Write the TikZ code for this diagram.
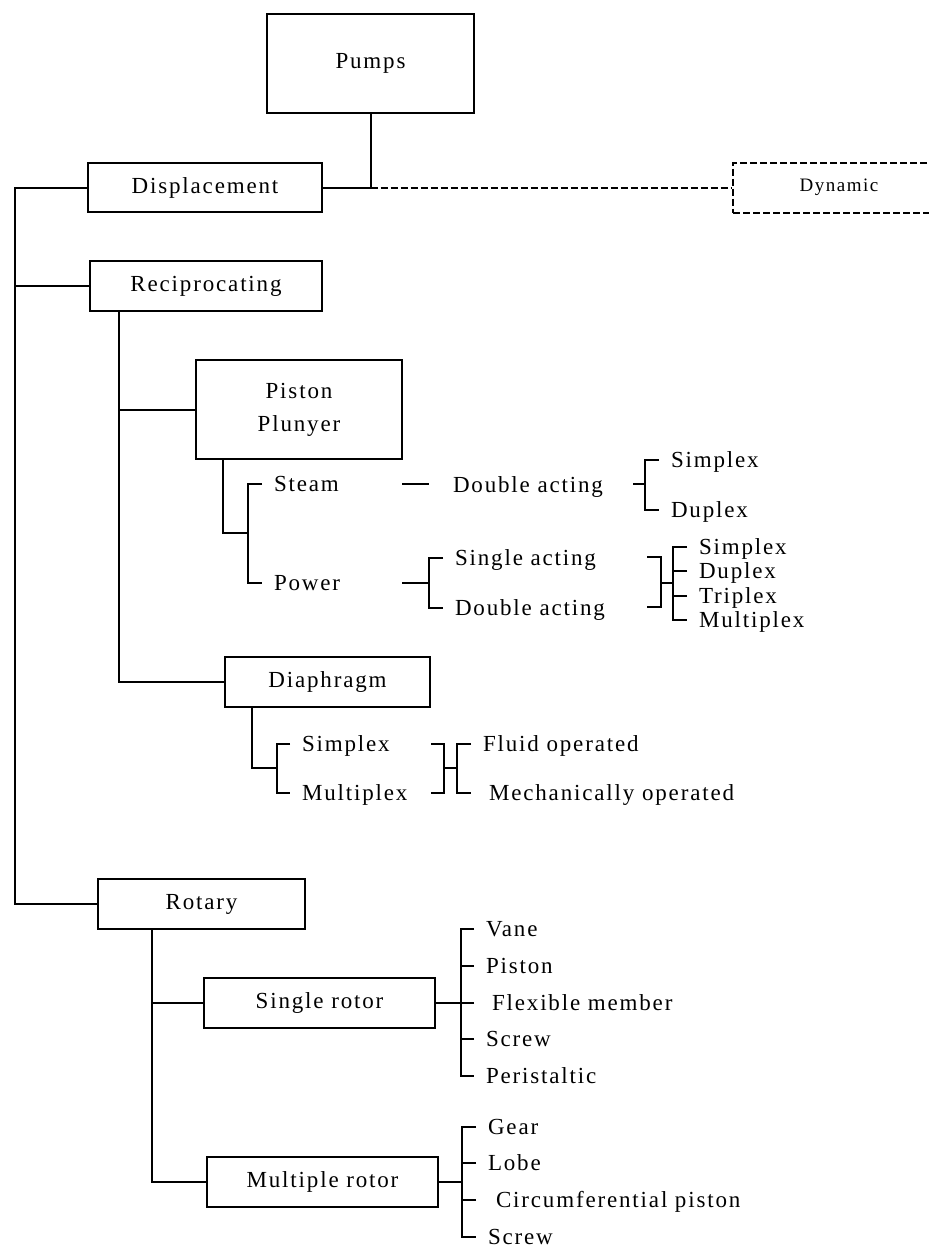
\documentclass[tikz,border=0pt]{standalone}
\usepackage{fontspec}
\setmainfont{Liberation Serif}[LetterSpace=8]

\tikzset{
  pbox/.style={draw, line width=1pt, inner sep=0pt, align=center,
    font=\fontsize{11.5}{16.5}\selectfont},
  dynbox/.style={dash pattern=on 3.5pt off 1.5pt, font=\fontsize{9.5}{11}\selectfont},
  leaf/.style={anchor=west, inner sep=0pt, outer xsep=6pt, text height=7.6pt,
    text depth=0pt, font=\fontsize{11.5}{14}\selectfont},
  widegap/.style={outer xsep=9pt},
  link/.style={line width=1pt},
}

\begin{document}
\begin{tikzpicture}[x=0.5pt,y=-0.5pt]
    \path[use as bounding box, clip] (0,0) rectangle (929,1249);

    % boxes
    \node[pbox, minimum width=103.5pt, minimum height=49.5pt] (pumps) at (370.5,63.5) {Pumps};
    \node[pbox, minimum width=117pt, minimum height=24.5pt] (disp) at (205,187.5) {Displacement};
    \node[pbox, dynbox, minimum width=106pt, minimum height=25pt] (dyn) at (839,187.5) {Dynamic};
    \node[pbox, minimum width=116pt, minimum height=25pt] (recip) at (206,286) {Reciprocating};
    \node[pbox, minimum width=103pt, minimum height=49.5pt] (piston) at (299,409.5) {Piston\\Plunyer};
    \node[pbox, minimum width=102.5pt, minimum height=25pt] (diaph) at (327.5,682) {Diaphragm};
    \node[pbox, minimum width=103.5pt, minimum height=25pt] (rotary) at (201.5,904) {Rotary};
    \node[pbox, minimum width=115.5pt, minimum height=25pt] (single) at (319.5,1003) {Single rotor};
    \node[pbox, minimum width=115.5pt, minimum height=25pt] (multi) at (322.5,1182) {Multiple rotor};

    % leaf labels
    \node[leaf] (steam) at (262,484) {Steam};
    \node[leaf] (power) at (262,583) {Power};
    \node[leaf] (dact1) at (441,485) {Double acting};
    \node[leaf] (simA) at (659,460) {Simplex};
    \node[leaf] (dupA) at (659,510) {Duplex};
    \node[leaf] (sact) at (443,558) {Single acting};
    \node[leaf] (dact2) at (443,608) {Double acting};
    \node[leaf] (simB) at (687,547) {Simplex};
    \node[leaf] (dupB) at (687,571) {Duplex};
    \node[leaf] (tripB) at (687,596) {Triplex};
    \node[leaf] (multB) at (687,620) {Multiplex};
    \node[leaf] (simD) at (290,744) {Simplex};
    \node[leaf] (multD) at (290,793) {Multiplex};
    \node[leaf] (fluid) at (471,744) {Fluid operated};
    \node[leaf, widegap] (mech) at (471,793) {Mechanically operated};
    \node[leaf] (vane) at (474,929) {Vane};
    \node[leaf] (pistR) at (474,966) {Piston};
    \node[leaf, widegap] (flex) at (474,1003) {Flexible member};
    \node[leaf] (screwA) at (474,1039) {Screw};
    \node[leaf] (peri) at (474,1076) {Peristaltic};
    \node[leaf] (gear) at (476,1127) {Gear};
    \node[leaf] (lobe) at (476,1163) {Lobe};
    \node[leaf, widegap, outer xsep=10pt] (circ) at (476,1200) {Circumferential piston};
    \node[leaf] (screwB) at (476,1237) {Screw};

    % guide lines
    \coordinate (trunk) at (15,0);
    \coordinate (rline) at (119,0);
    \coordinate (pline) at (223,0);
    \coordinate (dline) at (252,0);
    \coordinate (rotline) at (152,0);

    % top level
    \draw[link] (pumps.south) |- (disp.east);
    \draw[link, dash pattern=on 3.5pt off 1.5pt] (pumps.south |- disp.east) -- (dyn.west);
    \draw[link] (disp.west) -- (disp.west -| trunk) -- (rotary.west -| trunk) -- (rotary.west);
    \draw[link] (recip.west) -- (recip.west -| trunk);
    \draw[link] (rline |- recip.south) -- (rline |- diaph.west) -- (diaph.west);
    \draw[link] (rline |- piston.west) -- (piston.west);

    % piston / plunger
    \coordinate (b1) at (248,533);
    \draw[link] (pline |- piston.south) |- (b1);
    \draw[link] (steam.west) -| (b1) |- (power.west);
    \coordinate (s1) at (402,484);
    \coordinate (s2) at (429,484);
    \draw[link] (s1) -- (s2);
    \coordinate (b2in) at (633,484);
    \coordinate (b2) at (645,484);
    \draw[link] (b2in) -- (b2);
    \draw[link] (simA.west) -| (b2) |- (dupA.west);
    \coordinate (b3in) at (402,583);
    \coordinate (b3) at (429,583);
    \draw[link] (b3in) -- (b3);
    \draw[link] (sact.west) -| (b3) |- (dact2.west);
    \coordinate (b4top) at (647,557);
    \coordinate (b4bot) at (647,607);
    \coordinate (b4) at (661,583);
    \coordinate (b5) at (673,583);
    \draw[link] (b4top) -| (b4) |- (b4bot);
    \draw[link] (b4) -- (b5);
    \draw[link] (simB.west) -| (b5) |- (multB.west);
    \foreach \n in {dupB,tripB}
        \draw[link] (\n.west) -- (\n.west -| b5);

    % diaphragm
    \coordinate (b6) at (277,768);
    \draw[link] (dline |- diaph.south) |- (b6);
    \draw[link] (simD.west) -| (b6) |- (multD.west);
    \coordinate (b7top) at (431,744);
    \coordinate (b7bot) at (431,793);
    \coordinate (b7) at (444,768);
    \coordinate (b8) at (457,768);
    \draw[link] (b7top) -| (b7) |- (b7bot);
    \draw[link] (b7) -- (b8);
    \draw[link] (fluid.west) -| (b8) |- (mech.west);

    % rotary
    \draw[link] (rotline |- rotary.south) |- (multi.west);
    \draw[link] (rotline |- single.west) -- (single.west);
    \coordinate (b9) at (461,1003);
    \draw[link] (single.east) -- (b9);
    \draw[link] (vane.west) -| (b9) |- (peri.west);
    \foreach \n in {pistR,flex,screwA}
        \draw[link] (\n.west) -- (\n.west -| b9);
    \coordinate (b10) at (462,1182);
    \draw[link] (multi.east) -- (b10);
    \draw[link] (gear.west) -| (b10) |- (screwB.west);
    \foreach \n in {lobe,circ}
        \draw[link] (\n.west) -- (\n.west -| b10);
\end{tikzpicture}
\end{document}
